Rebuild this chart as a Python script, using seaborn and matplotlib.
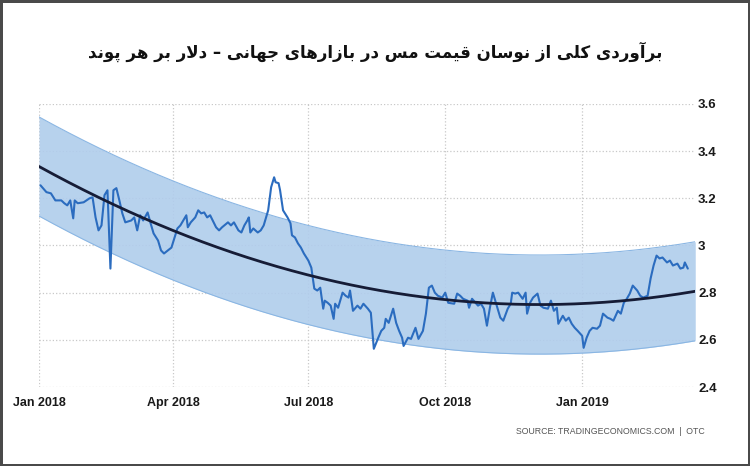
import matplotlib
matplotlib.use("Agg")
import matplotlib.pyplot as plt
import matplotlib.dates as mdates
from matplotlib.ticker import FixedLocator, FuncFormatter
import seaborn as sns
import numpy as np
import pandas as pd

title = "برآوردی کلی از نوسان قیمت مس در بازارهای جهانی – دلار بر هر پوند"
source = "SOURCE: TRADINGECONOMICS.COM  |  OTC"

# copper price, days counted from 2018-01-01
day = [1, 5, 8, 11, 15, 17, 19, 21, 23, 24, 26, 30, 34, 36, 38, 40, 42, 44, 46, 48,
       50, 52, 54, 56, 58, 62, 64, 66, 68, 70, 73, 75, 77, 80, 82, 84, 89,
       93, 95, 99, 100, 102, 105, 107, 109, 111, 113, 115, 119, 121, 123, 127, 129,
       131, 134, 136, 138, 140, 141, 142, 144, 147, 149, 151, 154, 156, 158, 159,
       161, 162, 164, 167, 169, 170, 172, 174, 176, 178, 181, 183,
       185, 187, 189, 191, 192, 194, 196, 198, 199, 201, 204, 206, 208, 209, 211,
       214, 216, 218, 221, 223, 225, 228, 230, 232, 233, 235, 238, 240, 242, 244,
       245, 248, 250, 253, 255, 258, 260, 262, 264, 266, 268, 271, 273, 275,
       279, 281, 283, 285, 288, 289, 291, 295, 297, 299, 301, 303, 305, 308, 310,
       312, 315, 317, 318, 320, 322, 325, 327, 328, 330, 332, 335, 337, 339, 342,
       344, 346, 348, 349, 352, 354, 356, 358, 360, 362, 365, 366, 368,
       370, 372, 375, 377, 379, 382, 384, 386, 389, 391, 393, 395, 397, 399, 402,
       404, 406, 409, 411, 413, 415, 417, 419, 422, 424, 426, 429, 431, 433, 434, 436]
price = [3.255, 3.226, 3.221, 3.191, 3.191, 3.179, 3.170, 3.191, 3.115, 3.191, 3.179,
         3.183, 3.200, 3.204, 3.119, 3.064, 3.085, 3.213, 3.234, 2.902,
         3.234, 3.243, 3.191, 3.136, 3.098, 3.106, 3.119, 3.064, 3.128, 3.106, 3.140,
         3.094, 3.051, 3.021, 2.979, 2.966, 2.991,
         3.072, 3.085, 3.128, 3.077, 3.098, 3.119, 3.149, 3.136, 3.140, 3.119, 3.128,
         3.077, 3.064, 3.077, 3.098, 3.085,
         3.098, 3.064, 3.055, 3.085, 3.106, 3.119, 3.055, 3.072, 3.055, 3.064, 3.085,
         3.149, 3.247, 3.289, 3.268,
         3.264, 3.234, 3.149, 3.119, 3.094, 3.043, 3.034, 3.009, 2.991, 2.966, 2.936, 2.906,
         2.817, 2.809, 2.821, 2.732, 2.766, 2.757, 2.745, 2.689, 2.753, 2.736, 2.800,
         2.787, 2.779, 2.809, 2.723,
         2.745, 2.732, 2.753, 2.732, 2.715, 2.562, 2.609, 2.638, 2.651, 2.689, 2.672,
         2.732, 2.672, 2.638, 2.609,
         2.574, 2.609, 2.604, 2.651, 2.604, 2.638, 2.711, 2.821, 2.830, 2.800, 2.787,
         2.779, 2.800, 2.757,
         2.753, 2.796, 2.787, 2.774, 2.766, 2.736, 2.774, 2.745, 2.753, 2.732, 2.660,
         2.736, 2.800, 2.736, 2.694,
         2.681, 2.732, 2.753, 2.800, 2.796, 2.800, 2.774, 2.800, 2.711, 2.757, 2.779,
         2.796, 2.745, 2.736, 2.732,
         2.766, 2.723, 2.736, 2.668, 2.702, 2.681, 2.694, 2.668, 2.651, 2.638, 2.617,
         2.566, 2.609,
         2.638, 2.651, 2.647, 2.660, 2.711, 2.694, 2.689, 2.681, 2.723, 2.711, 2.757,
         2.774, 2.796, 2.830, 2.809,
         2.787, 2.779, 2.787, 2.860, 2.915, 2.957, 2.945, 2.949, 2.928, 2.936, 2.915,
         2.923, 2.902, 2.906, 2.928, 2.902]

band_half = 0.21          # half width of the shaded channel
x_end_day = 441           # right edge of the chart
yticks = [2.4, 2.6, 2.8, 3.0, 3.2, 3.4, 3.6]

# --- simple Persian shaping (matplotlib has no complex text layout) ---
FORMS = {
    "ا": ("\uFE8D", "\uFE8E", None, None), "آ": ("\uFE81", "\uFE82", None, None),
    "ب": ("\uFE8F", "\uFE90", "\uFE91", "\uFE92"), "پ": ("\uFB56", "\uFB57", "\uFB58", "\uFB59"),
    "ت": ("\uFE95", "\uFE96", "\uFE97", "\uFE98"), "ج": ("\uFE9D", "\uFE9E", "\uFE9F", "\uFEA0"),
    "د": ("\uFEA9", "\uFEAA", None, None), "ر": ("\uFEAD", "\uFEAE", None, None),
    "ز": ("\uFEAF", "\uFEB0", None, None), "س": ("\uFEB1", "\uFEB2", "\uFEB3", "\uFEB4"),
    "ق": ("\uFED5", "\uFED6", "\uFED7", "\uFED8"), "ک": ("\uFB8E", "\uFB8F", "\uFB90", "\uFB91"),
    "ل": ("\uFEDD", "\uFEDE", "\uFEDF", "\uFEE0"), "م": ("\uFEE1", "\uFEE2", "\uFEE3", "\uFEE4"),
    "ن": ("\uFEE5", "\uFEE6", "\uFEE7", "\uFEE8"), "ه": ("\uFEE9", "\uFEEA", "\uFEEB", "\uFEEC"),
    "و": ("\uFEED", "\uFEEE", None, None), "ی": ("\uFBFC", "\uFBFD", "\uFBFE", "\uFBFF"),
}


def shape(text):
    chars = list(text)
    out = []
    i = 0
    while i < len(chars):
        c = chars[i]
        if c not in FORMS:
            out.append(c)
            i += 1
            continue
        prev = chars[i - 1] if i > 0 else ""
        joins_prev = prev in FORMS and FORMS[prev][2] is not None
        nxt = chars[i + 1] if i + 1 < len(chars) else ""
        if c == "ل" and nxt == "ا":
            out.append("\uFEFC" if joins_prev else "\uFEFB")
            i += 2
            continue
        joins_next = FORMS[c][2] is not None and nxt in FORMS
        iso, fin, ini, med = FORMS[c]
        if joins_prev and joins_next:
            out.append(med)
        elif joins_prev:
            out.append(fin)
        elif joins_next:
            out.append(ini)
        else:
            out.append(iso)
        i += 1
    return "".join(out)[::-1]


# --- data frames ---
start = pd.Timestamp("2018-01-01")
df = pd.DataFrame({"day": day, "price": price})
df["date"] = start + pd.to_timedelta(df["day"], unit="D")

coef = np.polyfit(df["day"], df["price"], 2)
fit_days = np.arange(0, x_end_day + 1)
trend = pd.DataFrame({"date": start + pd.to_timedelta(fit_days, unit="D"),
                      "trend": np.polyval(coef, fit_days)})

sns.set_style("white")
plt.rcParams["font.family"] = ["DejaVu Sans"]

fig = plt.figure(figsize=(7.5, 4.66), dpi=100)
fig.patch.set_edgecolor("#4a4a4a")
fig.patch.set_linewidth(2.5)
ax = fig.add_axes([0.052, 0.1695, 0.875, 0.6075])

ax.fill_between(trend["date"], trend["trend"] - band_half, trend["trend"] + band_half,
                color="#b0cdec", alpha=0.9, lw=0)
ax.plot(trend["date"], trend["trend"] + band_half, color="#8ab6e3", lw=0.8)
ax.plot(trend["date"], trend["trend"] - band_half, color="#8ab6e3", lw=0.8)
sns.lineplot(data=df, x="date", y="price", ax=ax, color="#2b6cbf", lw=1.5)
sns.lineplot(data=trend, x="date", y="trend", ax=ax, color="#161c36", lw=2)

ax.set_xlim(start, start + pd.Timedelta(days=x_end_day))
ax.set_ylim(2.4, 3.6)
ax.xaxis.set_major_locator(mdates.MonthLocator(bymonth=[1, 4, 7, 10]))
ax.xaxis.set_major_formatter(mdates.DateFormatter("%b %Y"))
ax.yaxis.set_major_locator(FixedLocator(yticks))
ax.yaxis.set_major_formatter(FuncFormatter(lambda v, p: f"{v:g}"))
ax.yaxis.tick_right()
ax.set_xlabel("")
ax.set_ylabel("")

ax.grid(True, color="#c8c8c8", linestyle=":", lw=0.9)
for s in ax.spines.values():
    s.set_visible(False)
ax.tick_params(axis="x", length=4, color="#c8c8c8", pad=3, labelsize=9, labelcolor="#1a1a1a")
ax.tick_params(axis="y", length=0, pad=2, labelsize=9.5, labelcolor="#1a1a1a")
for lab in ax.get_xticklabels() + ax.get_yticklabels():
    lab.set_fontweight("bold")
    lab.set_family(["Liberation Sans", "DejaVu Sans"])

fig.text(0.5, 0.888, shape(title), ha="center", va="center", fontsize=12,
         fontweight="bold", color="#111111")
fig.text(0.94, 0.073, source, ha="right", va="center", fontsize=6.3,
         color="#555555", family=["Liberation Sans", "DejaVu Sans"])

fig.savefig("out.png", dpi=100)
